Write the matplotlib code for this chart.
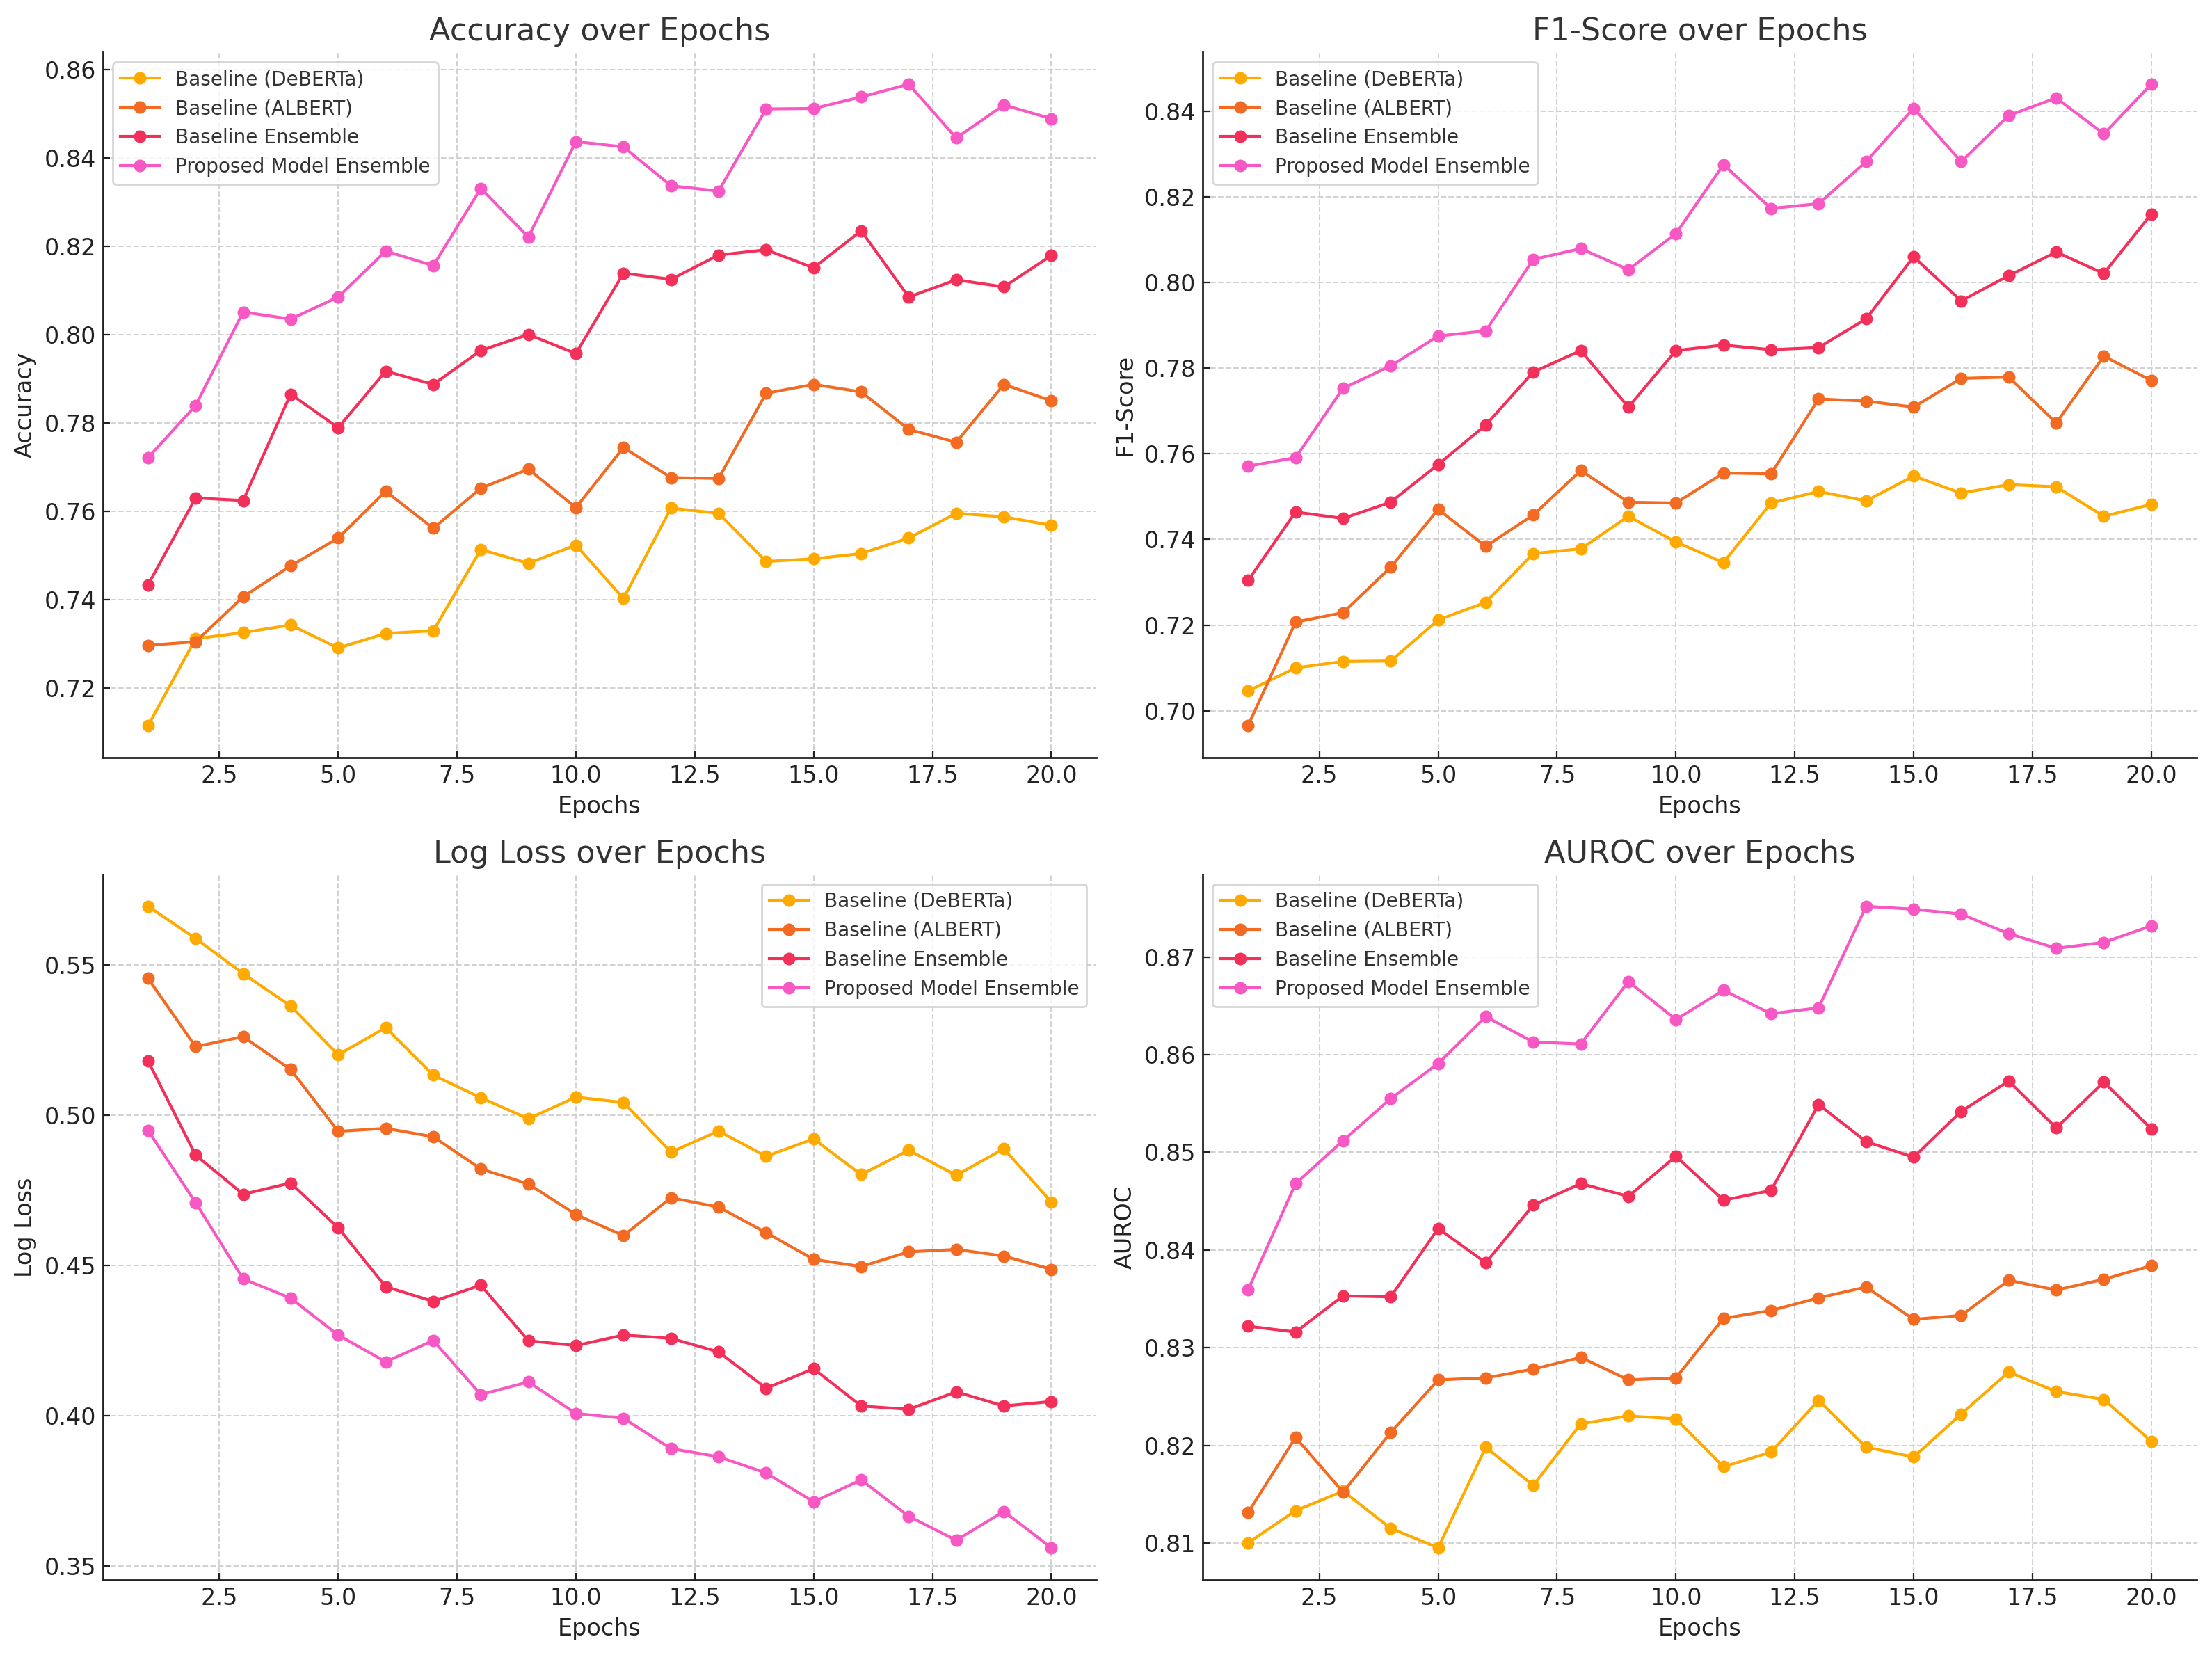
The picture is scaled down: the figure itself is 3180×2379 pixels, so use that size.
import matplotlib
matplotlib.use("Agg")
import matplotlib.pyplot as plt
import numpy as np

epochs = list(range(1, 21))
series_names = ["Baseline (DeBERTa)", "Baseline (ALBERT)", "Baseline Ensemble", "Proposed Model Ensemble"]
colors = ["#FFAA00", "#F36A22", "#F2305A", "#F858C4"]

acc_deberta = [0.7114, 0.7311, 0.7325, 0.7342, 0.7290, 0.7323, 0.7329, 0.7513, 0.7482, 0.7523,
               0.7402, 0.7607, 0.7595, 0.7486, 0.7492, 0.7504, 0.7539, 0.7595, 0.7587, 0.7568]
acc_albert = [0.7296, 0.7304, 0.7406, 0.7476, 0.7539, 0.7645, 0.7561, 0.7652, 0.7695, 0.7608,
              0.7744, 0.7676, 0.7674, 0.7867, 0.7887, 0.7870, 0.7785, 0.7756, 0.7887, 0.7850]
acc_ens = [0.7433, 0.7630, 0.7624, 0.7865, 0.7789, 0.7917, 0.7887, 0.7964, 0.8000, 0.7957,
           0.8139, 0.8125, 0.8180, 0.8192, 0.8151, 0.8235, 0.8085, 0.8124, 0.8108, 0.8179]
acc_prop = [0.7721, 0.7839, 0.8051, 0.8035, 0.8085, 0.8189, 0.8156, 0.8331, 0.8221, 0.8437,
            0.8425, 0.8337, 0.8325, 0.8511, 0.8512, 0.8538, 0.8567, 0.8445, 0.8520, 0.8489]

f1_deberta = [0.7046, 0.7100, 0.7115, 0.7116, 0.7212, 0.7253, 0.7367, 0.7378, 0.7454, 0.7394,
              0.7346, 0.7485, 0.7512, 0.7490, 0.7548, 0.7508, 0.7528, 0.7523, 0.7454, 0.7482]
f1_albert = [0.6965, 0.7207, 0.7229, 0.7335, 0.7470, 0.7384, 0.7457, 0.7561, 0.7487, 0.7485,
             0.7555, 0.7553, 0.7728, 0.7723, 0.7709, 0.7776, 0.7779, 0.7672, 0.7828, 0.7771]
f1_ens = [0.7304, 0.7464, 0.7449, 0.7487, 0.7575, 0.7667, 0.7791, 0.7841, 0.7709, 0.7841,
          0.7854, 0.7843, 0.7848, 0.7915, 0.8060, 0.7957, 0.8016, 0.8071, 0.8021, 0.8160]
f1_prop = [0.7571, 0.7591, 0.7753, 0.7805, 0.7875, 0.7887, 0.8054, 0.8079, 0.8030, 0.8114,
           0.8275, 0.8173, 0.8184, 0.8282, 0.8407, 0.8282, 0.8390, 0.8431, 0.8347, 0.8463]

ll_deberta = [0.5695, 0.5588, 0.5471, 0.5363, 0.5201, 0.5291, 0.5133, 0.5058, 0.4988, 0.5060,
              0.5042, 0.4877, 0.4947, 0.4863, 0.4921, 0.4802, 0.4883, 0.4800, 0.4888, 0.4711]
ll_albert = [0.5455, 0.5228, 0.5261, 0.5152, 0.4946, 0.4956, 0.4928, 0.4821, 0.4771, 0.4669,
             0.4599, 0.4725, 0.4694, 0.4609, 0.4520, 0.4496, 0.4545, 0.4553, 0.4531, 0.4487]
ll_ens = [0.5180, 0.4867, 0.4737, 0.4774, 0.4625, 0.4429, 0.4380, 0.4434, 0.4249, 0.4233,
          0.4268, 0.4257, 0.4212, 0.4091, 0.4156, 0.4032, 0.4021, 0.4079, 0.4032, 0.4047]
ll_prop = [0.4949, 0.4709, 0.4455, 0.4391, 0.4268, 0.4179, 0.4250, 0.4070, 0.4112, 0.4007,
           0.3991, 0.3890, 0.3863, 0.3809, 0.3713, 0.3786, 0.3665, 0.3585, 0.3681, 0.3560]

auc_deberta = [0.8100, 0.8133, 0.8153, 0.8115, 0.8095, 0.8198, 0.8159, 0.8222, 0.8230, 0.8227,
               0.8178, 0.8193, 0.8246, 0.8198, 0.8188, 0.8232, 0.8275, 0.8255, 0.8247, 0.8204]
auc_albert = [0.8131, 0.8208, 0.8152, 0.8213, 0.8267, 0.8269, 0.8278, 0.8290, 0.8267, 0.8269,
              0.8330, 0.8338, 0.8351, 0.8362, 0.8329, 0.8333, 0.8369, 0.8359, 0.8370, 0.8384]
auc_ens = [0.8322, 0.8316, 0.8353, 0.8352, 0.8422, 0.8387, 0.8446, 0.8468, 0.8455, 0.8496,
           0.8451, 0.8461, 0.8549, 0.8511, 0.8495, 0.8542, 0.8573, 0.8525, 0.8572, 0.8524]
auc_prop = [0.8359, 0.8468, 0.8512, 0.8555, 0.8591, 0.8639, 0.8613, 0.8611, 0.8675, 0.8636,
            0.8666, 0.8642, 0.8648, 0.8752, 0.8749, 0.8744, 0.8724, 0.8709, 0.8715, 0.8732]

panels = [
    ("Accuracy over Epochs", "Accuracy", [acc_deberta, acc_albert, acc_ens, acc_prop], "upper left"),
    ("F1-Score over Epochs", "F1-Score", [f1_deberta, f1_albert, f1_ens, f1_prop], "upper left"),
    ("Log Loss over Epochs", "Log Loss", [ll_deberta, ll_albert, ll_ens, ll_prop], "upper right"),
    ("AUROC over Epochs", "AUROC", [auc_deberta, auc_albert, auc_ens, auc_prop], "upper left"),
]

plt.rcParams['font.family'] = ['DejaVu Sans']

fig, axes = plt.subplots(2, 2, figsize=(15.9, 11.895), dpi=200)
fig.subplots_adjust(left=0.0465, right=0.993, top=0.9685, bottom=0.0454, wspace=0.107, hspace=0.165)

for ax, (title, ylabel, data, loc) in zip(axes.flat, panels):
    for vals, name, c in zip(data, series_names, colors):
        ax.plot(epochs, vals, marker='o', color=c, label=name, linewidth=1.5, markersize=5.5)
    ax.set_title(title, fontsize=16, color='#333333')
    ax.set_xlabel("Epochs", fontsize=12, color='#222222')
    ax.set_ylabel(ylabel, fontsize=12, color='#222222')
    ax.grid(True, linestyle='--', color='#d2d2d2', linewidth=0.75)
    ax.set_axisbelow(True)
    for s in ['top', 'right']:
        ax.spines[s].set_visible(False)
    for s in ['left', 'bottom']:
        ax.spines[s].set_linewidth(1.0)
        ax.spines[s].set_color('#222222')
    ax.tick_params(direction='in', length=3.5, labelsize=12, colors='#222222')
    leg = ax.legend(loc=loc, fontsize=10.1, framealpha=0.8, edgecolor='#cccccc', fancybox=True)
    for t in leg.get_texts():
        t.set_color('#333333')

fig.savefig("out.png", dpi=200)
